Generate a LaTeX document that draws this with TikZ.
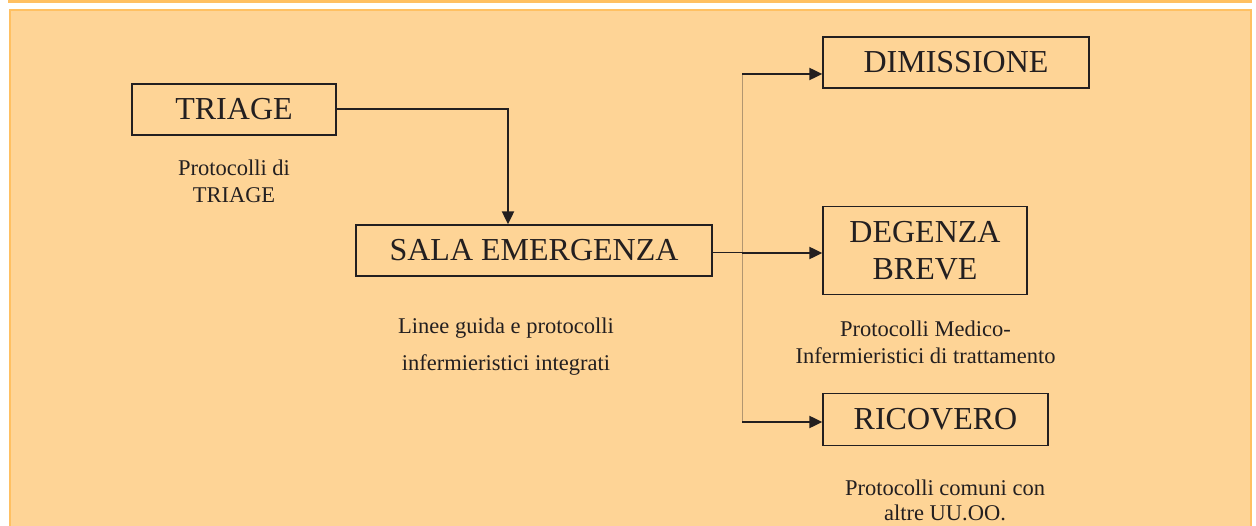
\documentclass[tikz,border=0pt]{standalone}
\usepackage{fontspec}
\setmainfont{Liberation Serif}
\usetikzlibrary{arrows.meta,positioning}

\definecolor{panelfill}{RGB}{254,212,150}
\definecolor{panelline}{RGB}{255,192,98}
\definecolor{inkdark}{RGB}{35,31,32}
\definecolor{branchline}{RGB}{178,150,112}

\begin{document}
\begin{tikzpicture}[
        x=1pt, y=-1pt,
        every node/.style={text=inkdark, align=center, inner sep=0pt},
        block/.style={draw=inkdark, line width=1.3pt, font=\fontsize{32}{37}\selectfont, minimum height=51pt},
        note/.style={font=\fontsize{22.5}{27}\selectfont},
        flow/.style={draw=inkdark, line width=2pt, -{Triangle[length=13pt,width=12pt]}}
    ]
    \useasboundingbox (0,0) rectangle (1256,526);
    \clip (0,0) rectangle (1256,526);

    % Background
    \fill[panelline] (8,0) rectangle (1252,3);
    \draw[panelline, fill=panelfill, line width=2pt] (10,10.5) rectangle (1251,560);

    % Nodes
    \node (triage)[block, minimum width=204pt] at (234,109.5) {TRIAGE};
    \node (triagenote)[note] at (234,181.5) {Protocolli di\\TRIAGE};

    \node (sala)[block, minimum width=356pt] at (534,250.5) {SALA EMERGENZA};
    \node (salanote)[note, font=\fontsize{22.5}{37}\selectfont] at (506,347) {Linee guida e protocolli\\
        infermieristici integrati};

    \node (dimissione)[block, minimum width=266pt] at (956,62.5) {DIMISSIONE};

    \node (degenza)[block, minimum width=204pt, minimum height=88pt] at (925,250.5) {DEGENZA\\BREVE};
    \node (degenzanote)[note] at (925.5,342) {Protocolli Medico-\\
        Infermieristici di trattamento};

    \node (ricovero)[block, minimum width=225pt, minimum height=52pt] at (935.5,419.5) {RICOVERO};
    \node (ricoveronote)[note, font=\fontsize{22.5}{25}\selectfont] at (945,500.5) {Protocolli comuni con\\
        altre UU.OO.};

    \coordinate (split) at (742,253);
    \coordinate (splittop) at (742,74);
    \coordinate (splitbot) at (742,422);

    % Edges
    \draw[flow] (triage.east) -| ([xshift=-26pt]sala.north);
    \draw[branchline, line width=1pt] (splittop) -- (splitbot);
    \draw[inkdark, line width=1pt] (sala.east |- split) -- (split);
    \draw[flow] (splittop) -- (splittop -| dimissione.west);
    \draw[flow] (split) -- (split -| degenza.west);
    \draw[flow] (splitbot) -- (splitbot -| ricovero.west);

\end{tikzpicture}
\end{document}
